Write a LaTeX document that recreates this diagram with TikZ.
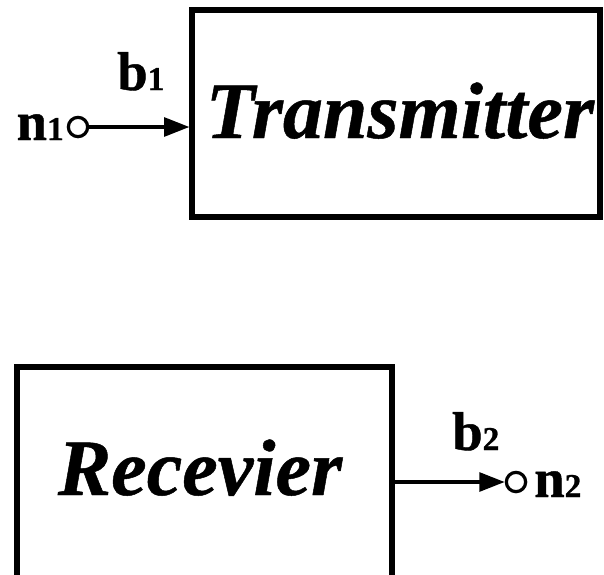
\documentclass[tikz,border=0pt]{standalone}
\usepackage{fontspec}
\setmainfont{Liberation Serif}
\newfontfamily\blockfont{Liberation Serif Bold Italic}[FakeBold=0.6]
\newfontfamily\labelfont{Liberation Serif Bold}[FakeBold=0.8]
\usetikzlibrary{arrows.meta}
\begin{document}
\begin{tikzpicture}[x=0.75pt,y=-0.75pt,
  blockbox/.style={draw,line width=3.8pt,rectangle,inner sep=0pt},
  port/.style={draw,circle,line width=2.4pt,minimum size=14.5pt,inner sep=0pt},
  signal/.style={line width=2.8pt,-{Triangle[length=19pt,width=14pt]}},
  bigtext/.style={font=\fontsize{60}{60}\blockfont,inner sep=0pt},
  lbl/.style={font=\fontsize{41}{41}\labelfont,inner sep=0pt}]
\useasboundingbox (0,0) rectangle (604,575);
\clip (0,0) rectangle (604,575);
\newcommand{\sublbl}[2]{#1{\fontsize{25}{25}\selectfont #2}}

% transmitter block and its input
\node[blockbox,minimum width=408*0.75pt,minimum height=207*0.75pt] (tx) at (396,113.5) {};
\node[bigtext,anchor=base] (txl) at (400,138) {Transmitter};
\node[port] (n1c) at (78,127) {};
\coordinate (txin) at (tx.west |- n1c);
\draw[signal] (n1c) -- (txin);
\node[lbl,anchor=base east] (n1l) at (64,140) {\sublbl{n}{1}};
\node[lbl,anchor=base west] (b1l) at (117,90) {\sublbl{b}{1}};

% receiver block and its output
\node[blockbox,minimum width=375*0.75pt,minimum height=233*0.75pt] (rx) at (204.5,483.5) {};
\node[bigtext,anchor=base] (rxl) at (200,495) {Recevier};
\node[port] (n2c) at (516,482) {};
\coordinate (rxout) at (rx.east |- n2c);
\draw[signal] (rxout) -- (n2c);
\node[lbl,anchor=base west] (n2l) at (534,497) {\sublbl{n}{2}};
\node[lbl,anchor=base west] (b2l) at (452,450) {\sublbl{b}{2}};
\end{tikzpicture}
\end{document}
